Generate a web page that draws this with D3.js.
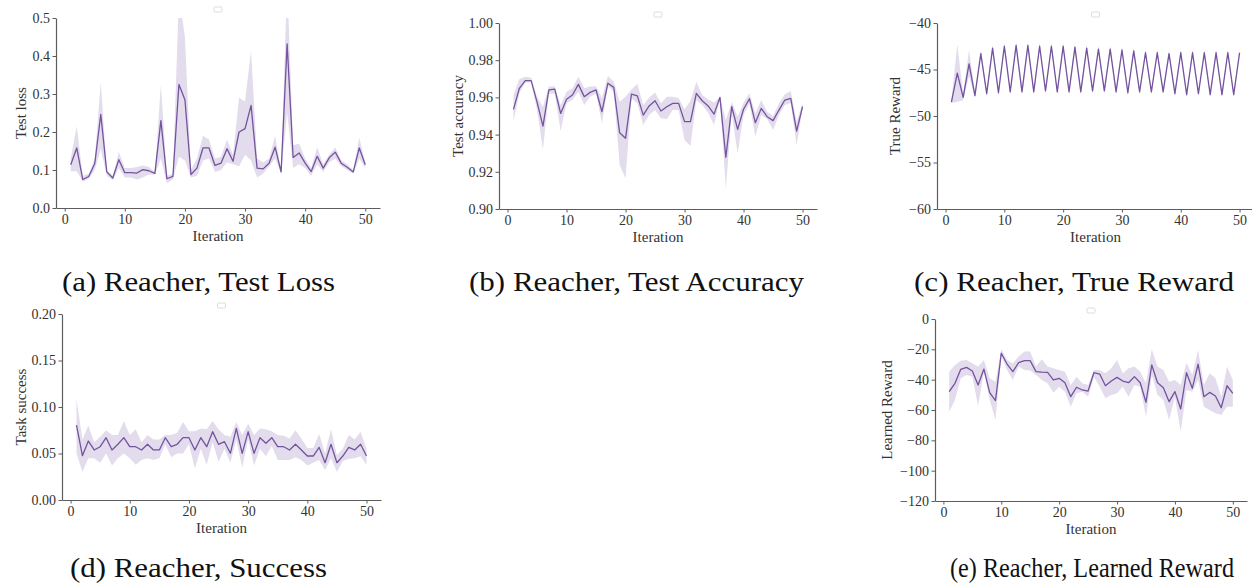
<!DOCTYPE html>
<html>
<head>
<meta charset="utf-8">
<script src="https://cdn.jsdelivr.net/npm/d3@7"></script>
<style>
  body { margin: 0; background: #fff; }
  text { font-family: "Liberation Serif", "DejaVu Serif", serif; }
</style>
</head>
<body>
<div id="svg-container"></div>
<script>
var width = 1252, height = 586;

// DATA
var iters = d3.range(1, 51);
var xTicks = [0, 10, 20, 30, 40, 50];

// (a) test loss
var lossTicks = [0.0, 0.1, 0.2, 0.3, 0.4, 0.5];
var lossMean = [0.114,0.158,0.075,0.083,0.117,0.246,0.095,0.079,0.127,0.093,
                0.093,0.092,0.101,0.098,0.091,0.230,0.077,0.083,0.325,0.285,
                0.088,0.105,0.158,0.158,0.112,0.118,0.156,0.123,0.200,0.209,
                0.270,0.105,0.103,0.118,0.160,0.095,0.432,0.133,0.145,0.118,
                0.096,0.136,0.105,0.132,0.147,0.118,0.107,0.095,0.158,0.114];
var lossLow  = [0.097,0.097,0.070,0.077,0.100,0.155,0.085,0.073,0.105,0.080,
                0.080,0.075,0.080,0.088,0.088,0.130,0.065,0.075,0.135,0.125,
                0.080,0.085,0.125,0.130,0.095,0.100,0.120,0.115,0.110,0.140,
                0.125,0.080,0.090,0.110,0.130,0.090,0.250,0.105,0.115,0.105,
                0.085,0.115,0.095,0.120,0.130,0.110,0.100,0.090,0.130,0.105];
var lossHigh = [0.130,0.215,0.085,0.090,0.130,0.330,0.100,0.085,0.148,0.105,
                0.105,0.108,0.112,0.108,0.095,0.325,0.085,0.090,0.560,0.450,
                0.100,0.130,0.190,0.180,0.130,0.135,0.180,0.140,0.290,0.280,
                0.415,0.130,0.120,0.130,0.190,0.100,0.600,0.165,0.170,0.130,
                0.105,0.160,0.115,0.140,0.160,0.125,0.115,0.100,0.185,0.120];

// (b) test accuracy
var accTicks = [0.90, 0.92, 0.94, 0.96, 0.98, 1.00];
var accMean = [0.9536,0.9649,0.9690,0.9690,0.9575,0.9446,0.9640,0.9644,0.9514,0.9590,
               0.9613,0.9670,0.9604,0.9627,0.9640,0.9523,0.9676,0.9654,0.9410,0.9380,
               0.9617,0.9608,0.9505,0.9554,0.9582,0.9527,0.9550,0.9568,0.9568,0.9470,
               0.9470,0.9622,0.9582,0.9554,0.9510,0.9600,0.9278,0.9550,0.9428,0.9536,
               0.9593,0.9464,0.9541,0.9496,0.9475,0.9532,0.9586,0.9595,0.9419,0.9550];
var accLow  = [0.9470,0.9622,0.9680,0.9680,0.9532,0.9320,0.9620,0.9620,0.9420,0.9568,
               0.9586,0.9630,0.9559,0.9604,0.9620,0.9460,0.9660,0.9630,0.9237,0.9165,
               0.9595,0.9568,0.9452,0.9505,0.9532,0.9488,0.9484,0.9532,0.9532,0.9371,
               0.9339,0.9586,0.9559,0.9518,0.9452,0.9595,0.9111,0.9514,0.9300,0.9505,
               0.9568,0.9389,0.9505,0.9484,0.9425,0.9505,0.9559,0.9568,0.9344,0.9541];
var accHigh = [0.9613,0.9697,0.9711,0.9705,0.9604,0.9550,0.9658,0.9660,0.9559,0.9630,
               0.9649,0.9711,0.9649,0.9658,0.9660,0.9595,0.9715,0.9684,0.9577,0.9604,
               0.9642,0.9672,0.9559,0.9600,0.9627,0.9568,0.9604,0.9604,0.9595,0.9536,
               0.9582,0.9684,0.9613,0.9590,0.9571,0.9604,0.9478,0.9577,0.9496,0.9571,
               0.9622,0.9514,0.9586,0.9523,0.9500,0.9568,0.9617,0.9634,0.9470,0.9571];

// (c) true reward
var trueTicks = [-60, -55, -50, -45, -40];
var trueMean = [-48.5,-45.4,-48.0,-44.4,-47.8,-43.3,-47.6,-42.7,-47.5,-42.5,
                -47.4,-42.4,-47.4,-42.4,-47.4,-42.5,-47.3,-42.5,-47.4,-42.5,
                -47.4,-42.6,-47.4,-42.7,-47.3,-42.8,-47.3,-42.8,-47.4,-42.9,
                -47.5,-43.0,-47.4,-43.2,-47.4,-43.2,-47.4,-43.3,-47.6,-43.2,
                -47.7,-43.2,-47.6,-43.2,-47.7,-43.2,-47.7,-43.2,-47.7,-43.2];
var trueLow  = [-48.6,-48.5,-48.3,-45.7,-48.1,-43.5,-47.9,-42.9,-47.8,-42.7,
                -47.7,-42.6,-47.7,-42.6,-47.7,-42.7,-47.6,-42.7,-47.7,-42.7,
                -47.7,-42.8,-47.7,-42.9,-47.6,-43.0,-47.6,-43.0,-47.7,-43.1,
                -47.8,-43.2,-47.7,-43.4,-47.7,-43.4,-47.7,-43.5,-47.9,-43.4,
                -48.0,-43.4,-47.9,-43.4,-48.0,-43.4,-48.0,-43.4,-48.0,-43.4];
var trueHigh = [-48.3,-42.3,-47.6,-42.9,-47.5,-42.9,-47.4,-42.3,-47.3,-42.1,
                -47.2,-42.0,-47.2,-42.0,-47.2,-42.1,-47.1,-42.1,-47.2,-42.1,
                -47.2,-42.2,-47.2,-42.3,-47.1,-42.4,-47.1,-42.4,-47.2,-42.5,
                -47.3,-42.6,-47.2,-42.8,-47.2,-42.8,-47.2,-42.9,-47.4,-42.8,
                -47.5,-42.8,-47.4,-42.8,-47.5,-42.8,-47.5,-42.8,-47.5,-42.8];

// (d) task success
var succTicks = [0.00, 0.05, 0.10, 0.15, 0.20];
var succMean = [0.0806,0.0477,0.0634,0.0538,0.0573,0.0670,0.0538,0.0599,0.0670,0.0573,
                0.0573,0.0538,0.0599,0.0538,0.0538,0.0670,0.0573,0.0599,0.0670,0.0670,
                0.0538,0.0670,0.0573,0.0735,0.0599,0.0627,0.0502,0.0771,0.0502,0.0735,
                0.0502,0.0670,0.0610,0.0670,0.0573,0.0573,0.0538,0.0599,0.0538,0.0473,
                0.0473,0.0566,0.0401,0.0599,0.0401,0.0473,0.0566,0.0538,0.0599,0.0473];
var succLow  = [0.050,0.030,0.045,0.045,0.040,0.050,0.037,0.045,0.050,0.045,
                0.038,0.043,0.045,0.043,0.045,0.060,0.046,0.050,0.050,0.060,
                0.034,0.055,0.038,0.062,0.041,0.055,0.040,0.065,0.035,0.065,
                0.037,0.055,0.047,0.058,0.043,0.043,0.043,0.046,0.043,0.037,
                0.040,0.043,0.032,0.045,0.030,0.042,0.044,0.045,0.047,0.038];
var succHigh = [0.109,0.065,0.080,0.062,0.068,0.075,0.070,0.070,0.085,0.070,
                0.076,0.062,0.070,0.065,0.065,0.070,0.070,0.072,0.084,0.074,
                0.074,0.077,0.076,0.085,0.076,0.070,0.068,0.084,0.070,0.082,
                0.070,0.077,0.076,0.074,0.070,0.069,0.066,0.075,0.066,0.056,
                0.056,0.071,0.050,0.076,0.048,0.055,0.070,0.065,0.073,0.055];

// (e) learned reward
var learnTicks = [-120, -100, -80, -60, -40, -20, 0];
var learnMean = [-47.9,-42.4,-33.2,-31.9,-34.3,-43.5,-33.0,-48.6,-53.8,-22.6,
                 -29.7,-34.7,-28.8,-27.5,-27.5,-34.7,-35.0,-35.2,-40.2,-39.1,
                 -42.0,-51.2,-45.0,-46.8,-47.5,-35.4,-36.3,-44.0,-40.9,-38.5,
                 -40.9,-42.0,-38.0,-42.0,-54.9,-30.3,-42.0,-45.3,-54.5,-47.9,
                 -59.3,-35.4,-45.7,-29.7,-51.2,-48.4,-50.8,-58.5,-44.0,-49.0];
var learnLow  = [-61.1,-53.4,-39.1,-36.9,-38.0,-57.4,-34.7,-53.4,-66.6,-24.4,
                 -33.6,-40.2,-31.4,-33.6,-34.0,-36.9,-40.2,-42.4,-48.6,-44.6,
                 -47.9,-57.8,-49.0,-47.9,-51.2,-38.0,-44.6,-52.3,-50.1,-49.0,
                 -44.6,-51.2,-43.5,-44.6,-64.4,-36.9,-50.1,-53.4,-66.6,-51.2,
                 -74.3,-46.8,-47.9,-40.2,-57.8,-60.0,-62.2,-63.3,-57.8,-57.8];
var learnHigh = [-34.7,-30.3,-27.5,-27.0,-29.2,-31.4,-27.0,-39.1,-41.3,-20.0,
                 -27.0,-29.2,-24.8,-21.5,-21.5,-31.4,-26.6,-31.4,-32.5,-33.6,
                 -34.7,-43.5,-38.0,-42.4,-43.5,-33.6,-33.6,-35.8,-32.5,-27.0,
                 -35.8,-32.5,-31.4,-34.7,-42.4,-20.0,-31.4,-33.6,-41.3,-40.2,
                 -43.5,-28.8,-36.9,-20.4,-43.5,-35.8,-39.1,-51.2,-31.4,-40.2];

var captions = ["(a) Reacher, Test Loss", "(b) Reacher, Test Accuracy", "(c) Reacher, True Reward",
                "(d) Reacher, Success", "(e) Reacher, Learned Reward"];
var yLabels = ["Test loss", "Test accuracy", "True Reward", "Task success", "Learned Reward"];

// colours
var lineColor = "#74539f";
var bandColor = "#e3dcec";
var axisColor = "#5c5c5c";
var textColor = "#333";

// layout of each subplot (pixels)
var panels = [
  {left: 56,  right: 380,  top: 18,  bottom: 208, ydom: [0, 0.5],    ticks: lossTicks,  fmt: d3.format(".1f"),
   mean: lossMean, low: lossLow, high: lossHigh, ylabX: 20.5, capX: 198.5, capY: 291, capW: 273},
  {left: 499, right: 817,  top: 23,  bottom: 209, ydom: [0.9, 1.0],  ticks: accTicks,   fmt: d3.format(".2f"),
   mean: accMean, low: accLow, high: accHigh, ylabX: 458, capX: 636.5, capY: 291, capW: 335},
  {left: 937, right: 1254, top: 23,  bottom: 209, ydom: [-60, -40],  ticks: trueTicks,  fmt: d3.format("d"),
   mean: trueMean, low: trueLow, high: trueHigh, ylabX: 894.5, capX: 1074, capY: 291, capW: 320},
  {left: 62,  right: 381,  top: 314, bottom: 500, ydom: [0, 0.2],    ticks: succTicks,  fmt: d3.format(".2f"),
   mean: succMean, low: succLow, high: succHigh, ylabX: 21, capX: 198.5, capY: 577, capW: 257},
  {left: 935, right: 1247, top: 319, bottom: 501, ydom: [-120, 0],   ticks: learnTicks, fmt: d3.format("d"),
   mean: learnMean, low: learnLow, high: learnHigh, ylabX: 887, capX: 1092, capY: 577, capW: 284}
];

var svg = d3.select("#svg-container")
  .append("svg")
  .attr("width", width)
  .attr("height", height);

svg.append("rect").attr("width", width).attr("height", height).attr("fill", "#fff");

panels.forEach(function(p, k) {
  var x = d3.scaleLinear().domain([-1.45, 52.45]).range([p.left, p.right]);
  var y = d3.scaleLinear().domain(p.ydom).range([p.bottom, p.top]);
  var g = svg.append("g").attr("class", "panel");

  g.append("clipPath").attr("id", "clip" + k)
    .append("rect")
    .attr("x", p.left).attr("y", p.top)
    .attr("width", p.right - p.left).attr("height", p.bottom - p.top);

  var plot = g.append("g").attr("clip-path", "url(#clip" + k + ")");

  // std band
  var area = d3.area()
    .x(function(d, i) { return x(iters[i]); })
    .y0(function(d, i) { return y(p.low[i]); })
    .y1(function(d, i) { return y(p.high[i]); });
  plot.append("path")
    .datum(p.mean)
    .attr("d", area)
    .attr("fill", bandColor);

  // mean line
  var line = d3.line()
    .x(function(d, i) { return x(iters[i]); })
    .y(function(d) { return y(d); });
  plot.append("path")
    .datum(p.mean)
    .attr("d", line)
    .attr("fill", "none")
    .attr("stroke", lineColor)
    .attr("stroke-width", 1.3)
    .attr("stroke-linejoin", "round");

  // axes
  var ax = g.append("g")
    .attr("transform", "translate(0," + p.bottom + ")")
    .call(d3.axisBottom(x).tickValues(xTicks).tickSize(3.5).tickSizeOuter(0).tickPadding(3));
  var ay = g.append("g")
    .attr("transform", "translate(" + p.left + ",0)")
    .call(d3.axisLeft(y).tickValues(p.ticks).tickFormat(p.fmt).tickSize(3.5).tickSizeOuter(0).tickPadding(2.5));

  [ax, ay].forEach(function(a) {
    a.select(".domain").attr("stroke", axisColor).attr("stroke-width", 1.2);
    a.selectAll(".tick line").attr("stroke", axisColor).attr("stroke-width", 1);
    a.selectAll(".tick text")
      .attr("fill", textColor)
      .style("font-size", "14px")
      .style("font-family", "'Liberation Serif', serif");
  });

  // empty legend box
  var mid = (p.left + p.right) / 2;
  g.append("rect")
    .attr("x", mid - 4).attr("y", p.top - 11)
    .attr("width", 8).attr("height", 5)
    .attr("rx", 1)
    .attr("fill", "#fff")
    .attr("stroke", "#d4d4d4")
    .attr("stroke-width", 0.8);

  // axis labels
  g.append("text")
    .attr("x", (p.left + p.right) / 2)
    .attr("y", p.bottom + 33)
    .attr("text-anchor", "middle")
    .attr("fill", textColor)
    .style("font-size", "15px")
    .text("Iteration");

  g.append("text")
    .attr("transform", "translate(" + p.ylabX + "," + ((p.top + p.bottom) / 2) + ") rotate(-90)")
    .attr("dy", "0.35em")
    .attr("text-anchor", "middle")
    .attr("fill", textColor)
    .style("font-size", "15px")
    .text(yLabels[k]);

  // caption
  svg.append("text")
    .attr("x", p.capX)
    .attr("y", p.capY)
    .attr("text-anchor", "middle")
    .attr("textLength", p.capW)
    .attr("lengthAdjust", "spacingAndGlyphs")
    .attr("fill", "#111")
    .style("font-size", "28px")
    .text(captions[k]);
});
</script>
</body>
</html>
